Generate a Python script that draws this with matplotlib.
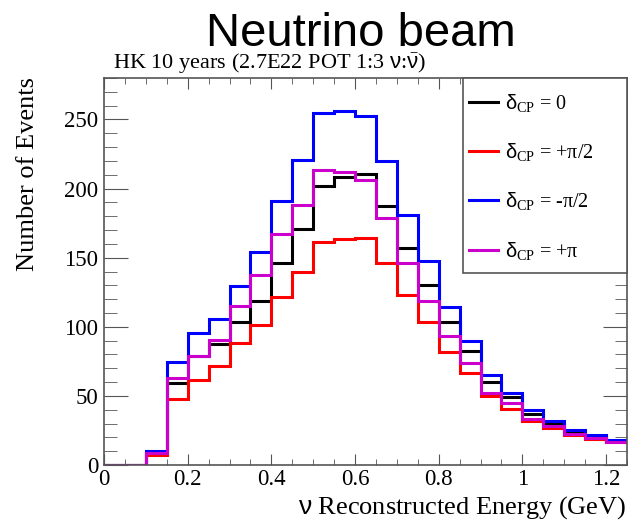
import matplotlib
matplotlib.use("Agg")
import matplotlib.pyplot as plt
from matplotlib.patches import Rectangle
import numpy as np

edges = np.round(np.arange(0, 1.2501, 0.05), 2)

dcp_0 = [0, 0, 9, 59, 79, 87.5, 103.7, 118.3, 146, 170.8, 201.7, 208.2, 210.2, 187.1,
         156.7, 130.5, 103.3, 82.6, 60.3, 49.3, 37.2, 29.9, 24.3, 20.6, 17.5]
dcp_p_half = [0, 0, 7, 47.4, 61.5, 71.7, 88.2, 101.3, 121.5, 139.5, 161, 163.3, 164.5, 145.8,
              122.7, 103.3, 81.9, 66.8, 49.8, 40.8, 31.6, 26.7, 21.4, 19, 16.5]
dcp_m_half = [0, 0, 10.4, 74.6, 95.5, 105.7, 129.5, 154.3, 191.2, 220.6, 254.8, 256, 252.4, 220.3,
              181, 147.5, 114.2, 89.9, 64.9, 52.2, 39.6, 31.6, 25, 21.9, 18.2]
dcp_pi = [0, 0, 9, 63, 79, 90.6, 114.7, 137.5, 166.9, 188.3, 213.6, 212.1, 206.5, 178.6,
          146.5, 119, 93, 73.6, 52.2, 44.5, 33.3, 27.9, 22.6, 19.4, 16.5]

labels = [r"$\mathsf{\delta}_{\mathrm{CP}}$ = 0", r"$\mathsf{\delta}_{\mathrm{CP}}$ = +π/2",
          r"$\mathsf{\delta}_{\mathrm{CP}}$ = -π/2", r"$\mathsf{\delta}_{\mathrm{CP}}$ = +π"]
colors = ["#000000", "#ff0000", "#0000ff", "#cc00cc"]
series = [dcp_0, dcp_p_half, dcp_m_half, dcp_pi]

plt.rcParams['font.family'] = ['Liberation Serif', 'DejaVu Serif']
plt.rcParams['mathtext.fontset'] = 'custom'
plt.rcParams['mathtext.rm'] = 'Liberation Serif'
plt.rcParams['mathtext.it'] = 'Liberation Serif:italic'
plt.rcParams['mathtext.bf'] = 'Liberation Serif:bold'
plt.rcParams['mathtext.sf'] = 'Liberation Sans'

W, H = 629, 523
fig = plt.figure(figsize=(W / 100, H / 100), dpi=100)
ax = fig.add_axes([104 / W, 1 - 465 / H, (627 - 104) / W, (465 - 78) / H])

handles = []
for vals, col, lab in zip(series, colors, labels):
    ax.stairs(vals, edges, color=col, linewidth=2.2, baseline=None, zorder=2)
    h, = ax.plot([], [], color=col, linewidth=2.2, label=lab)
    handles.append(h)

ax.set_xlim(0, 1.25)
ax.set_ylim(0, 280)
ax.set_xticks([0, 0.2, 0.4, 0.6, 0.8, 1.0, 1.2])
ax.set_xticklabels(["0", "0.2", "0.4", "0.6", "0.8", "1", "1.2"])
ax.set_xticks(np.arange(0, 1.251, 0.05), minor=True)
ax.set_yticks([0, 50, 100, 150, 200, 250])
ax.set_yticks(np.arange(0, 281, 10), minor=True)
ax.tick_params(axis='both', which='both', direction='in', labelsize=16.5, color='#555555')
ax.tick_params(axis='y', which='major', length=17, right=True, pad=4)
ax.tick_params(axis='y', which='minor', length=9, right=True)
ax.tick_params(axis='x', which='major', length=8, top=True, pad=3)
ax.tick_params(axis='x', which='minor', length=4, top=True)
for s in ax.spines.values():
    s.set_color('#555555')
    s.set_linewidth(1.2)

fig.text(28 / W, 1 - 77 / H, "Number of Events", fontsize=19, rotation=90,
         ha='center', va='top')
fig.text(626 / W, 1 - 514 / H, r"$\mathsf{\nu}$ Reconstructed Energy (GeV)", fontsize=19,
         ha='right', va='baseline')

fig.text(361 / W, 1 - 46 / H, "Neutrino beam", fontsize=34, family='Liberation Sans',
         ha='center', va='baseline')
fig.text(113 / W, 1 - 69 / H, r"HK 10 years (2.7E22 POT 1:3 $\mathsf{\nu}$:$\bar{\mathsf{\nu}}$)",
         fontsize=16, ha='left', va='baseline')

# legend box (fixed size, ROOT style)
box = Rectangle((463 / W, 1 - 273 / H), (627 - 463) / W, (273 - 78) / H,
                transform=fig.transFigure, facecolor='white', edgecolor='#555555',
                linewidth=1.2, zorder=5, clip_on=False)
ax.add_artist(box)
leg = ax.legend(handles=handles, loc='upper left', bbox_to_anchor=(469 / W, 1 - 92 / H),
                bbox_transform=fig.transFigure, fontsize=14.5, frameon=False,
                handlelength=1.45, handletextpad=0.35, labelspacing=1.35,
                borderpad=0, borderaxespad=0)
leg.set_zorder(6)

fig.savefig("out.png", dpi=100)
